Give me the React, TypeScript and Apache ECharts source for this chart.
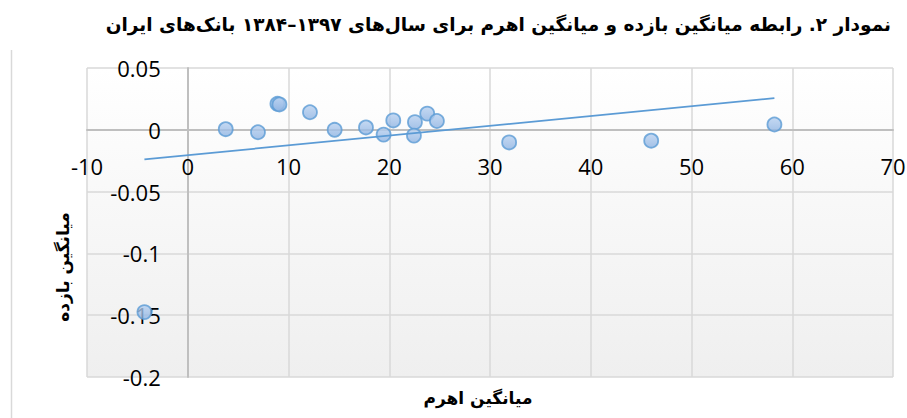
import React, { useEffect, useRef } from "react";
import * as echarts from "echarts";

// Data
const leverage = [-4.3, 3.77, 6.97, 8.9, 9.1, 12.13, 14.58, 17.69, 19.44, 20.4, 22.55, 22.45, 23.77, 24.73, 31.9, 46.0, 58.23];
const returns = [-0.1475, 0.0005, -0.002, 0.021, 0.0205, 0.0142, 0.0, 0.0019, -0.0039, 0.0076, 0.0062, -0.0047, 0.0131, 0.0071, -0.0102, -0.0088, 0.0043];

const xTicks = [-10, 0, 10, 20, 30, 40, 50, 60, 70];
const yTicks = [-0.2, -0.15, -0.1, -0.05, 0, 0.05];

const titleText = "نمودار ۲. رابطه میانگین بازده و میانگین اهرم برای سال‌های ۱۳۹۷–۱۳۸۴ بانک‌های ایران";
const xName = "میانگین اهرم";
const yName = "میانگین بازده";

function linearFit(xs: number[], ys: number[]) {
  const n = xs.length;
  const mx = xs.reduce((a, b) => a + b, 0) / n;
  const my = ys.reduce((a, b) => a + b, 0) / n;
  let sxy = 0;
  let sxx = 0;
  for (let i = 0; i < n; i++) {
    sxy += (xs[i] - mx) * (ys[i] - my);
    sxx += (xs[i] - mx) * (xs[i] - mx);
  }
  const slope = sxy / sxx;
  return { slope, intercept: my - slope * mx };
}

const W = 907;
const H = 418;
const G = { left: 87, right: 14, top: 68, bottom: 41 };

export default function App() {
  const ref = useRef<HTMLDivElement>(null);

  useEffect(() => {
    if (!ref.current) return;
    const chart = echarts.init(ref.current, undefined, { renderer: "svg" });
    const fit = linearFit(leverage, returns);
    const xMin = Math.min(...leverage);
    const xMax = Math.max(...leverage);
    const trend = [
      [xMin, fit.intercept + fit.slope * xMin],
      [xMax, fit.intercept + fit.slope * xMax],
    ];
    const x0 = xTicks[0];
    const x1 = xTicks[xTicks.length - 1];
    const y0 = yTicks[0];
    const y1 = yTicks[yTicks.length - 1];
    const plotW = W - G.left - G.right;
    const plotH = H - G.top - G.bottom;
    // place the axes where the other axis is zero (like Excel's crossing axes)
    const yAxisOffset = -((0 - x0) / (x1 - x0)) * plotW;
    const xAxisOffset = -((0 - y0) / (y1 - y0)) * plotH;

    const labelFont = {
      fontFamily: "'Open Sans', 'Noto Sans', sans-serif",
      fontSize: 22,
      color: "#000000",
    };
    chart.setOption({
      animation: false,
      backgroundColor: "#ffffff",
      grid: {
        left: G.left,
        right: G.right,
        top: G.top,
        bottom: G.bottom,
        outerBoundsMode: "none",
        containLabel: false,
        show: true,
        borderWidth: 0,
        backgroundColor: new echarts.graphic.LinearGradient(0, 0, 0, 1, [
          { offset: 0, color: "#ffffff" },
          { offset: 1, color: "#efefef" },
        ]),
      },
      xAxis: {
        type: "value",
        min: x0,
        max: x1,
        interval: xTicks[1] - xTicks[0],
        position: "bottom",
        offset: xAxisOffset,
        axisLine: { show: true, onZero: false, lineStyle: { color: "#bfbfbf", width: 2 } },
        axisTick: { show: false },
        axisLabel: { ...labelFont, margin: 25 },
        splitLine: { show: true, lineStyle: { color: "#d9d9d9", width: 1.5 } },
      },
      yAxis: {
        type: "value",
        min: y0,
        max: y1,
        interval: 0.05,
        position: "left",
        offset: yAxisOffset,
        axisLine: { show: true, onZero: false, lineStyle: { color: "#bfbfbf", width: 2 } },
        axisTick: { show: false },
        axisLabel: {
          ...labelFont,
          margin: 27,
          formatter: (v: number) => String(Number(v.toFixed(2))),
        },
        splitLine: { show: true, lineStyle: { color: "#d9d9d9", width: 1.5 } },
      },
      series: [
        {
          type: "scatter",
          data: leverage.map((x, i) => [x, returns[i]]),
          symbol: "circle",
          symbolSize: 14,
          z: 2,
          itemStyle: {
            color: new echarts.graphic.LinearGradient(0, 0, 0, 1, [
              { offset: 0, color: "#b7d0f0" },
              { offset: 1, color: "#8eb3e2" },
            ]),
            borderColor: "#5b9bd5",
            borderWidth: 1.8,
          },
        },
        {
          type: "line",
          data: trend,
          showSymbol: false,
          symbol: "none",
          z: 3,
          lineStyle: { color: "#5b9bd5", width: 1.75 },
          silent: true,
        },
      ],
      graphic: [
        {
          type: "line",
          shape: { x1: 11.5, y1: 50, x2: 11.5, y2: 418 },
          style: { stroke: "#d9d9d9", lineWidth: 1.5 },
        },
        {
          type: "text",
          x: 891,
          y: 24,
          style: {
            text: titleText,
            font: "bold 18.5px 'DejaVu Sans', sans-serif",
            fill: "#000000",
            align: "right",
            verticalAlign: "middle",
          },
        },
        {
          type: "text",
          x: 478,
          y: 398,
          style: {
            text: xName,
            font: "bold 17px 'DejaVu Sans', sans-serif",
            fill: "#000000",
            align: "center",
            verticalAlign: "middle",
          },
        },
        {
          type: "text",
          x: 63,
          y: 267,
          rotation: Math.PI / 2,
          style: {
            text: yName,
            font: "bold 17px 'DejaVu Sans', sans-serif",
            fill: "#000000",
            align: "center",
            verticalAlign: "middle",
          },
        },
      ],
    });
    return () => chart.dispose();
  }, []);

  return (
    <div
      ref={ref}
      style={{ position: "fixed", left: 0, top: 0, width: W, height: H }}
    />
  );
}
